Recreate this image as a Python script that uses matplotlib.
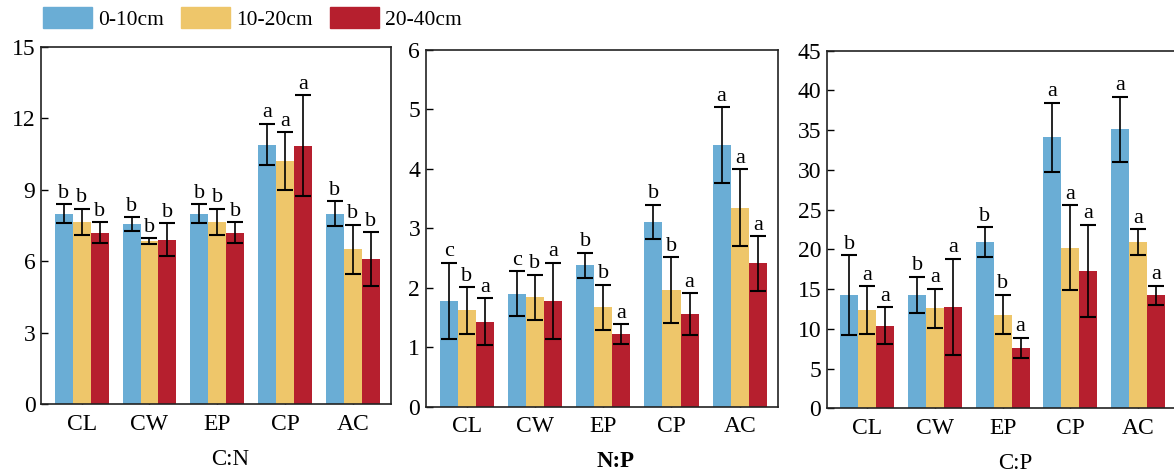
import matplotlib
matplotlib.use("Agg")
import matplotlib.pyplot as plt
from matplotlib.patches import Patch
import numpy as np

plt.rcParams['font.family'] = ['Liberation Serif', 'DejaVu Serif']

sites = ["CL", "CW", "EP", "CP", "AC"]
depths = ["0-10cm", "10-20cm", "20-40cm"]
colors = ["#6AADD5", "#EEC66A", "#B61F2E"]

# C:N
cn_mean = [[8.0, 7.55, 8.0, 10.9, 8.0],
           [7.65, 6.85, 7.65, 10.2, 6.5],
           [7.2, 6.9, 7.2, 10.85, 6.1]]
cn_err = [[0.4, 0.3, 0.4, 0.87, 0.52],
          [0.55, 0.12, 0.55, 1.22, 1.03],
          [0.43, 0.7, 0.43, 2.12, 1.13]]
cn_sig = [["b", "b", "b", "a", "b"],
          ["b", "b", "b", "a", "b"],
          ["b", "b", "b", "a", "b"]]

# N:P
np_mean = [[1.78, 1.9, 2.38, 3.11, 4.4],
           [1.62, 1.84, 1.67, 1.96, 3.35],
           [1.43, 1.78, 1.22, 1.56, 2.41]]
np_err = [[0.64, 0.38, 0.21, 0.29, 0.64],
          [0.39, 0.38, 0.38, 0.56, 0.65],
          [0.4, 0.64, 0.17, 0.35, 0.46]]
np_sig = [["c", "c", "b", "b", "a"],
          ["b", "b", "b", "b", "a"],
          ["a", "a", "a", "a", "a"]]

# C:P
cp_mean = [[14.25, 14.3, 20.9, 34.1, 35.1],
           [12.4, 12.6, 11.8, 20.2, 20.9],
           [10.4, 12.8, 7.6, 17.3, 14.2]]
cp_err = [[5.0, 2.25, 1.9, 4.35, 4.1],
          [3.0, 2.45, 2.5, 5.35, 1.65],
          [2.35, 6.05, 1.3, 5.8, 1.25]]
cp_sig = [["b", "b", "b", "a", "a"],
          ["a", "a", "b", "a", "a"],
          ["a", "a", "a", "a", "a"]]

panels = [
    (cn_mean, cn_err, cn_sig, "C:N", 15, 3, "normal", [0.0349, 0.1495, 0.2981, 0.7516]),
    (np_mean, np_err, np_sig, "N:P", 6, 1, "bold", [0.3626, 0.1438, 0.3001, 0.7509]),
    (cp_mean, cp_err, cp_sig, "C:P", 45, 5, "normal", [0.7042, 0.1404, 0.2975, 0.7529]),
]

fig = plt.figure(figsize=(11.74, 4.75), dpi=100)
x = np.arange(len(sites))
w = 0.265

for mean, err, sig, label, ymax, step, weight, rect in panels:
    ax = fig.add_axes(rect)
    for i in range(3):
        pos = x + (i - 1) * w
        ax.bar(pos, mean[i], width=w, color=colors[i], zorder=2)
        ax.errorbar(pos, mean[i], yerr=err[i], fmt="none", ecolor="black",
                    elinewidth=1.2, capsize=5.5, capthick=1.5, zorder=3)
        for j in range(len(sites)):
            ax.annotate(sig[i][j], (pos[j], mean[i][j] + err[i][j]),
                        xytext=(0, 1), textcoords="offset points",
                        ha="center", va="bottom", fontsize=16)
    ax.set_xlim(-0.6, 4.56)
    ax.set_ylim(0, ymax)
    ax.set_yticks(np.arange(0, ymax + step / 2, step))
    ax.set_xticks(x)
    ax.set_xticklabels(sites)
    ax.tick_params(axis="both", direction="in", labelsize=17, width=1.0)
    ax.tick_params(axis="x", length=7, pad=7)
    ax.tick_params(axis="y", length=5, pad=4)
    for s in ax.spines.values():
        s.set_linewidth(1.2)
        s.set_color("#222222")
    ax.set_xlabel(label, fontsize=16.5, fontweight=weight)
    ax.xaxis.set_label_coords(0.54, -0.125)

handles = [Patch(color=c) for c in colors]
fig.legend(handles, depths, ncol=3, loc="upper left", bbox_to_anchor=(0.026, 1.012),
           frameon=False, fontsize=15.5, handlelength=2.25, handleheight=1.1,
           handletextpad=0.3, columnspacing=0.8, borderaxespad=0.2)

fig.savefig("out.png", dpi=100)
